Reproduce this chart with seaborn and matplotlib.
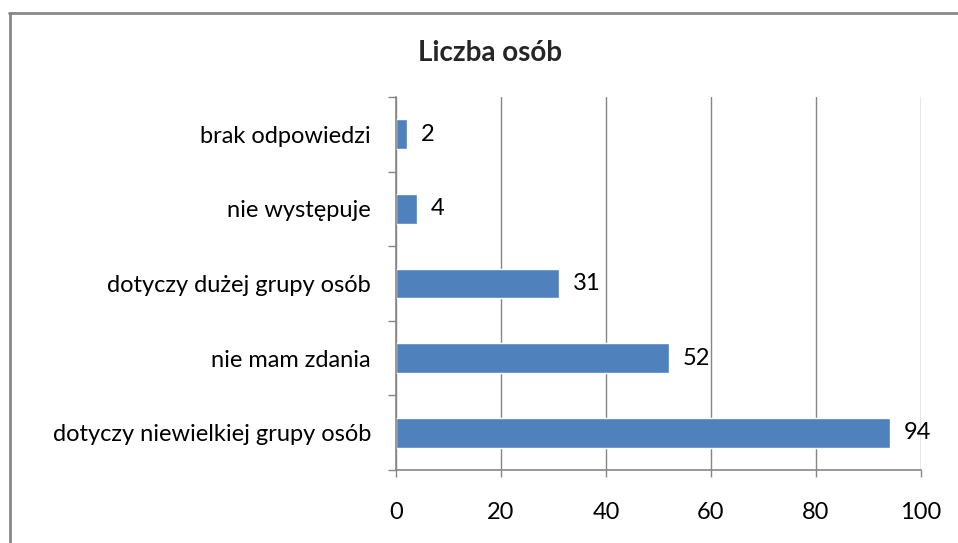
import matplotlib
matplotlib.use('Agg')
import matplotlib.pyplot as plt
from matplotlib.lines import Line2D
import seaborn as sns
import pandas as pd
import numpy as np

# dane
kategorie = ['brak odpowiedzi', 'nie występuje', 'dotyczy dużej grupy osób',
             'nie mam zdania', 'dotyczy niewielkiej grupy osób']
liczba = [2, 4, 31, 52, 94]
tytul = 'Liczba osób'
x_ticks = [0, 20, 40, 60, 80, 100]

df = pd.DataFrame({'kategoria': kategorie, 'liczba': liczba})

sns.set_theme(style='white')
plt.rcParams['font.family'] = ['Lato', 'DejaVu Sans']

kolor_slupka = '#4F81BD'
kolor_osi = '#868686'
rozmiar = 17

fig = plt.figure(figsize=(9.58, 5.43), dpi=100)
ax = fig.add_axes([396 / 958, 1 - 470 / 543, (921 - 396) / 958, (470 - 97) / 543])

sns.barplot(data=df, x='liczba', y='kategoria', orient='h', color=kolor_slupka,
            width=0.4, saturation=1, ax=ax)

ax.set_xlim(0, 100)
ax.set_ylim(len(kategorie) - 0.5, -0.5)
ax.set_xticks(x_ticks)
ax.set_xlabel('')
ax.set_ylabel('')

# siatka pionowa
ax.grid(axis='x', color=kolor_osi, linewidth=1)
ax.set_axisbelow(True)

for s in ['top', 'right']:
    ax.spines[s].set_visible(False)
for s in ['left', 'bottom']:
    ax.spines[s].set_color(kolor_osi)
    ax.spines[s].set_linewidth(1.2)

# znaczniki osi
ax.tick_params(axis='x', which='major', length=5, width=1, color=kolor_osi,
               direction='out', bottom=True, pad=18, labelsize=rozmiar, labelcolor='#000000')
ax.tick_params(axis='y', which='major', length=0, pad=18, labelsize=rozmiar, labelcolor='#000000')
ax.set_yticks(np.arange(-0.5, len(kategorie), 1.0), minor=True)
ax.tick_params(axis='y', which='minor', length=6, width=1, color=kolor_osi,
               direction='out', left=True)

# etykiety wartości
ax.bar_label(ax.containers[0], labels=[str(v) for v in liczba], padding=10,
             fontsize=rozmiar, color='#000000')

fig.text(490 / 958, 1 - 53 / 543, tytul, ha='center', va='center',
         fontsize=20, fontweight='bold')

# ramka wykresu
fig.add_artist(Line2D([10 / 958, 10 / 958], [0, 1 - 13 / 543], transform=fig.transFigure,
                      color='#888888', linewidth=2))
fig.add_artist(Line2D([9 / 958, 1], [1 - 13 / 543, 1 - 13 / 543], transform=fig.transFigure,
                      color='#888888', linewidth=2))

fig.savefig('out.png', dpi=100)
